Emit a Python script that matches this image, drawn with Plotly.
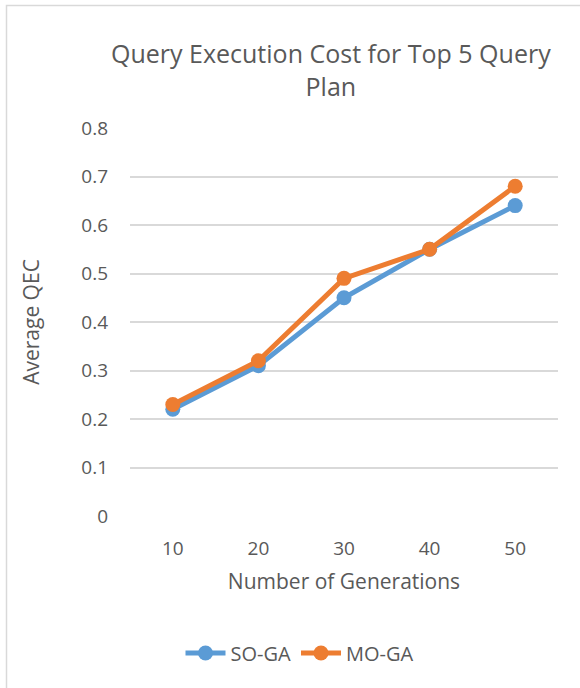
import plotly.graph_objects as go

generations = ["10", "20", "30", "40", "50"]
so_ga = [0.22, 0.31, 0.45, 0.55, 0.64]
mo_ga = [0.23, 0.32, 0.49, 0.55, 0.68]
y_ticks = [0, 0.1, 0.2, 0.3, 0.4, 0.5, 0.6, 0.7, 0.8]
y_tick_text = ["0", "0.1", "0.2", "0.3", "0.4", "0.5", "0.6", "0.7", "0.8"]

W, H = 580, 688
L, R, T, B = 130, 22, 128, 172
FONT = "Open Sans"
GREY = "#595959"

def px_x(x):
    return (x - L) / (W - L - R)

def px_y(y):
    return (H - B - y) / (H - T - B)

fig = go.Figure()
fig.add_trace(go.Scatter(
    x=generations, y=so_ga, name="SO-GA", mode="lines+markers",
    line=dict(color="#5b9bd5", width=5),
    marker=dict(color="#5b9bd5", size=15),
))
fig.add_trace(go.Scatter(
    x=generations, y=mo_ga, name="MO-GA", mode="lines+markers",
    line=dict(color="#ed7d31", width=5),
    marker=dict(color="#ed7d31", size=15),
))

fig.update_layout(
    width=W, height=H,
    margin=dict(l=L, r=R, t=T, b=B),
    paper_bgcolor="white", plot_bgcolor="white",
    font=dict(family=FONT, color=GREY, size=19),
    showlegend=True,
    legend=dict(orientation="h", x=px_x(300), xanchor="center",
                y=px_y(653), yanchor="middle",
                font=dict(size=20, color=GREY), itemwidth=40),
    xaxis=dict(
        type="category", range=[-0.5, 4.5],
        showgrid=False, zeroline=False, showline=False,
        ticks="", tickfont=dict(size=19, color=GREY), ticklabelstandoff=19,
        title=dict(text="Number of Generations", font=dict(size=21, color=GREY),
                   standoff=14),
    ),
    yaxis=dict(
        range=[0, 0.8], tickvals=y_ticks, ticktext=y_tick_text,
        showgrid=True, gridcolor="#d9d9d9", gridwidth=1.5,
        zeroline=False, showline=False, ticks="",
        tickfont=dict(size=19, color=GREY), ticklabelstandoff=21,
        title=dict(text="Average QEC", font=dict(size=21, color=GREY),
                   standoff=35),
    ),
    annotations=[
        dict(text="Query Execution Cost for Top 5 Query<br>Plan",
             xref="paper", yref="paper", x=px_x(331), y=px_y(69),
             xanchor="center", yanchor="middle", showarrow=False,
             font=dict(family=FONT, size=25, color=GREY)),
    ],
    shapes=[
        dict(type="path", xref="paper", yref="paper",
             path=f"M {px_x(6.5)} {px_y(H)} L {px_x(6.5)} {px_y(5.5)} L {px_x(W)} {px_y(5.5)}",
             line=dict(color="#d9d9d9", width=1.5)),
    ],
)

fig.write_html("out.html")
